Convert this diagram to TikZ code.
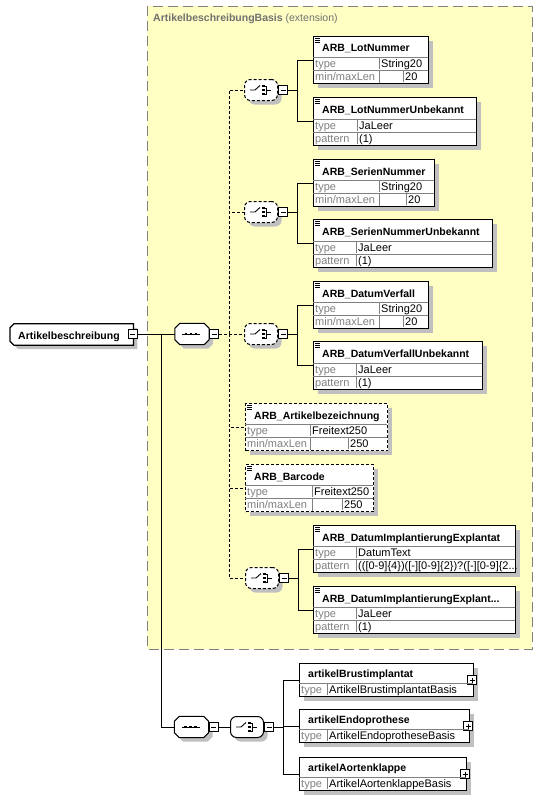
\documentclass[tikz,border=0pt]{standalone}
\usepackage{fontspec}
\setmainfont{Liberation Sans}
\usetikzlibrary{shadows}
\definecolor{area}{RGB}{255,255,196}
\definecolor{arealine}{RGB}{128,128,128}
\definecolor{areatext}{RGB}{112,112,112}
\definecolor{shade}{RGB}{192,192,192}
\definecolor{grid}{RGB}{128,128,128}
\definecolor{keygray}{RGB}{128,128,128}
\tikzset{
  shadowed/.style={drop shadow={shadow xshift=4pt, shadow yshift=-4pt, fill=shade, opacity=1}},
  box/.style={draw, line width=1.2pt, fill=white, inner sep=0pt, anchor=north west, shadowed},
  optional/.style={dash pattern=on 3pt off 2pt},
  heading/.style={anchor=base west, inner sep=0pt, font=\fontsize{10.5}{12}\selectfont\bfseries},
  cell/.style={anchor=base west, inner sep=0pt, font=\fontsize{11}{13}\selectfont},
  key/.style={cell, text=keygray},
  rowline/.style={draw=grid, line width=0.7pt, shorten <=0.6pt, shorten >=0.6pt},
  wire/.style={line width=0.9pt},
  toggle/.style={draw, fill=white, line width=0.8pt, minimum size=9pt, inner sep=0pt},
  compnode/.style={rectangle, inner sep=0pt, minimum height=21pt},
  outline/.style={draw, fill=white, line width=1pt, shadowed},
  choicenode/.style={rectangle, rounded corners=6pt, draw, line width=1pt, fill=white,
    minimum width=33pt, minimum height=21pt, inner sep=0pt, shadowed}
}
\newcommand{\minusbox}[3]{\node[toggle] (#1) at (#2,#3) {};
  \draw[line width=0.8pt] (#2-2.5,#3) -- (#2+2.5,#3);}
\newcommand{\plusbox}[3]{\node[toggle] (#1) at (#2,#3) {};
  \draw[line width=0.8pt] (#2-2.5,#3) -- (#2+2.5,#3) (#2,#3-2.5) -- (#2,#3+2.5);}
% element with simple content: name, x, y, width, height, options, title
\newcommand{\elem}[7]{%
  \node[box, #6, minimum width=#4pt, minimum height=#5pt] (#1) at (#2,#3) {};
  \foreach \d in {2,4,6}{\draw[line width=0.6pt] (#2+2,#3+\d) -- ++(5,0);}
  \node[heading] (#1-name) at (#2+9,#3+16) {#7};
}
% element of a complex type: name, x, y, width, height, title
\newcommand{\refelem}[6]{%
  \node[box, minimum width=#4pt, minimum height=#5pt] (#1) at (#2,#3) {};
  \node[heading] (#1-name) at (#2+9,#3+14) {#6};
  \plusbox{#1-p}{#2+#4-1}{#3+17}
}
% rows: elem, x, top, right, split, key, value
\newcommand{\typerow}[7]{%
  \draw[rowline] (#2,#3) -- (#4,#3) (#5,#3) -- ++(0,13);
  \node[key] (#1-#6) at (#2+2,#3+10.5) {#6};
  \node[cell] (#1-#6-val) at (#5+2,#3+10.5) {#7};
}
\newcommand{\lenrow}[7]{%
  \draw[rowline] (#2,#3) -- (#4,#3) (#5,#3) -- ++(0,13) (#6,#3) -- ++(0,13);
  \node[key] (#1-len) at (#2+2,#3+10.5) {min/maxLen};
  \node[cell] (#1-len-val) at (#6+2,#3+10.5) {#7};
}
\newcommand{\seqbox}[3]{%
  \node[compnode, minimum width=34pt] (#1) at (#2,#3) {};
  \path[outline] ([xshift=5pt]#1.north west) -- ([xshift=-5pt]#1.north east) -- ([yshift=-5pt]#1.north east)
    -- ([yshift=5pt]#1.south east) -- ([xshift=-5pt]#1.south east) -- ([xshift=5pt]#1.south west)
    -- ([yshift=5pt]#1.south west) -- ([yshift=-5pt]#1.north west) -- cycle;
  \draw[line width=0.8pt] (#2-10,#3) -- (#2+8,#3);
  \foreach \d in {-5,0,5}{\fill (#2-1+\d-1.4,#3-1.4) rectangle ++(2.8,2.8);}
  \minusbox{#1-m}{#2+22}{#3}
}
\newcommand{\choicebox}[4]{%
  \node[choicenode, #4] (#1) at (#2,#3) {};
  \draw[line width=0.9pt] (#2-11,#3) -- (#2-6,#3) -- (#2-1,#3-4.5);
  \foreach \d in {-4,0,4}{\fill (#2+0.8,#3+\d-1.4) rectangle ++(2.8,2.8);}
  \draw[line width=0.8pt] (#2+3.6,#3-4) -| (#2+5.8,#3+4) -- (#2+3.6,#3+4) (#2+5.8,#3) -- (#2+10,#3);
  \minusbox{#1-m}{#2+22}{#3}
}

\begin{document}
\begin{tikzpicture}[x=1pt,y=-1pt]
\useasboundingbox (0,0) rectangle (543,800);
% extension area
\draw[arealine, fill=area, dash pattern=on 10pt off 5pt, line width=0.9pt] (147,6) rectangle (532,649);
\node[anchor=base west, inner sep=0pt, text=areatext, font=\fontsize{10.5}{12}\selectfont] (basis) at (153,22)
  {\textbf{ArtikelbeschreibungBasis} (extension)};

% root and compositors
\node[compnode, minimum width=123pt, anchor=west] (root) at (10,334.5) {};
\path[outline, line width=1.2pt] ([xshift=4pt]root.north west) -- (root.north east) -- (root.south east)
  -- ([xshift=4pt]root.south west) -- ([yshift=4pt]root.south west) -- ([yshift=-4pt]root.north west) -- cycle;
\node[heading] (root-name) at (18,339) {Artikelbeschreibung};
\minusbox{root-m}{132.5}{334}
\seqbox{seq1}{192}{334}
\seqbox{seq2}{191.5}{727}
\choicebox{ch1}{261}{90}{optional}
\choicebox{ch2}{261}{212}{optional}
\choicebox{ch3}{261}{334}{optional}
\choicebox{ch4}{262}{578}{optional}
\choicebox{ch5}{247}{727}{}

% elements
\elem{lot}{313}{36}{115}{47}{}{ARB\_LotNummer}
\typerow{lot}{313}{57}{428}{379}{type}{String20}
\lenrow{lot}{313}{70}{428}{379}{403}{20}
\elem{lotu}{313}{97}{163}{48}{}{ARB\_LotNummerUnbekannt}
\typerow{lotu}{313}{119}{476}{357}{type}{JaLeer}
\typerow{lotu}{313}{132}{476}{357}{pattern}{(1)}
\elem{ser}{313}{159}{121}{47}{}{ARB\_SerienNummer}
\typerow{ser}{313}{180}{434}{379}{type}{String20}
\lenrow{ser}{313}{193}{434}{379}{406}{20}
\elem{seru}{313}{219}{179}{48}{}{ARB\_SerienNummerUnbekannt}
\typerow{seru}{313}{241}{492}{356}{type}{JaLeer}
\typerow{seru}{313}{254}{492}{356}{pattern}{(1)}
\elem{dat}{313}{281}{115}{47}{}{ARB\_DatumVerfall}
\typerow{dat}{313}{302}{428}{379}{type}{String20}
\lenrow{dat}{313}{315}{428}{379}{403}{20}
\elem{datu}{313}{341}{169}{48}{}{ARB\_DatumVerfallUnbekannt}
\typerow{datu}{313}{363}{482}{356}{type}{JaLeer}
\typerow{datu}{313}{376}{482}{356}{pattern}{(1)}
\elem{bez}{245}{403}{142}{47}{optional}{ARB\_Artikelbezeichnung}
\typerow{bez}{245}{424}{387}{310}{type}{Freitext250}
\lenrow{bez}{245}{437}{387}{310}{348}{250}
\elem{bar}{245}{464}{128}{47}{optional}{ARB\_Barcode}
\typerow{bar}{245}{485}{373}{312}{type}{Freitext250}
\lenrow{bar}{245}{498}{373}{312}{342}{250}
\elem{imp}{313}{525}{202}{47}{}{ARB\_DatumImplantierungExplantat}
\typerow{imp}{313}{546}{515}{356}{type}{DatumText}
\typerow{imp}{313}{559}{515}{356}{pattern}{(([0-9]\{4\})([-][0-9]\{2\})?([-][0-9]\{2...}
\elem{impu}{313}{586}{202}{47}{}{ARB\_DatumImplantierungExplant...}
\typerow{impu}{313}{607}{515}{356}{type}{JaLeer}
\typerow{impu}{313}{620}{515}{356}{pattern}{(1)}
\refelem{brust}{299}{663}{174}{33}{artikelBrustimplantat}
\typerow{brust}{299}{683}{473}{327}{type}{ArtikelBrustimplantatBasis}
\refelem{endo}{299}{709}{170}{33}{artikelEndoprothese}
\typerow{endo}{299}{729}{469}{327}{type}{ArtikelEndoprotheseBasis}
\refelem{aort}{299}{757}{167}{33}{artikelAortenklappe}
\typerow{aort}{299}{777}{466}{327}{type}{ArtikelAortenklappeBasis}

% connectors
\coordinate (fork) at (161,334);
\coordinate (spine) at (229,334);
\draw[wire] (root-m.east) -- (seq1.west);
\draw[wire] (fork) |- (seq2.west);
\draw[wire] (seq2-m.east) -- (ch5.west);
\draw[wire, optional] (seq1-m.east) -- (ch3.west);
\foreach \t in {ch1,ch2,bez,bar,ch4}{\draw[wire, optional] (spine) |- (\t.west);}
\foreach \c/\a/\b in {ch1/lot/lotu, ch2/ser/seru, ch3/dat/datu, ch4/imp/impu}{
  \draw[wire] (\c-m.east) -- ++(10,0) |- (\a.west) (\c-m.east) -- ++(10,0) |- (\b.west);
}
\foreach \e in {brust,endo,aort}{\draw[wire] (ch5-m.east) -- ++(10,0) |- (\e.west);}
\end{tikzpicture}
\end{document}
